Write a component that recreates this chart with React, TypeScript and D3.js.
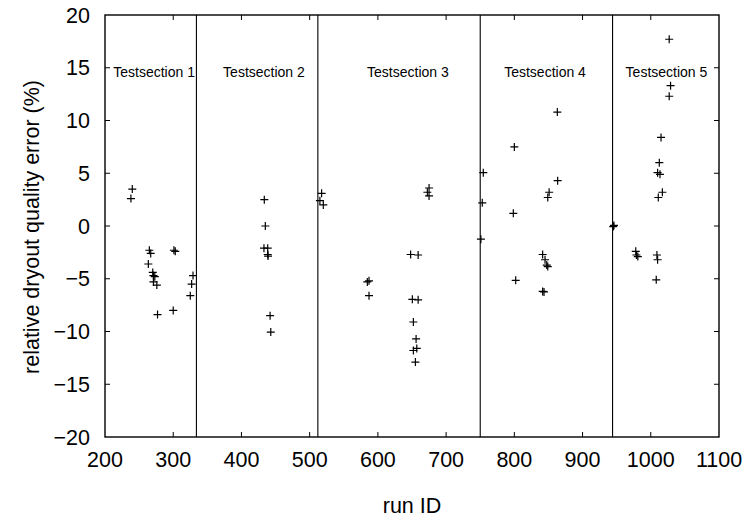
import React, { useEffect, useRef } from 'react';
import * as d3 from 'd3';

// run IDs and relative errors (%), per test section
const section1 = [
  [240, 3.5], [238, 2.6], [265, -2.3], [267, -2.6], [301, -2.3], [303, -2.4],
  [263.5, -3.6], [270, -4.4], [271, -4.7], [273, -4.8], [271, -5.3], [276, -5.6],
  [277, -8.4], [300, -8.0], [329, -4.7], [327, -5.5], [325, -6.6],
];
const section2 = [
  [433.5, 2.5], [435, 0], [433, -2.1], [438.5, -2.1], [438.5, -2.7], [439, -2.85],
  [442, -8.5], [443, -10.05],
];
const section3 = [
  [517.5, 3.1], [515, 2.4], [520, 2.0], [587, -5.2], [584.5, -5.3], [587, -6.6],
  [648, -2.7], [659, -2.75], [675, 3.6], [672.5, 3.2], [675, 2.85], [650.5, -6.95],
  [659, -7.0], [652, -9.1], [656, -10.7], [652, -11.8], [657, -11.6], [655, -12.9],
];
const section4 = [
  [754.5, 5.05], [753, 2.2], [751, -1.25], [800, 7.5], [798.5, 1.2], [802, -5.15],
  [863, 10.8], [863.5, 4.3], [851, 3.2], [849, 2.7], [841.5, -2.7], [845, -3.2],
  [847.5, -3.7], [849, -3.85], [841.5, -6.2], [843.5, -6.25],
];
const section5 = [
  [945, -0.05], [946, 0.05], [1027, 17.7], [1029, 13.3], [1027, 12.3], [1015, 8.4],
  [1012.5, 6.0], [1010, 5.05], [1013.5, 4.9], [1017, 3.2], [1011, 2.7], [978, -2.4],
  [981, -2.9], [979, -2.75], [1009, -2.75], [1010, -3.2], [1008, -5.1],
];

const boundaries = [334, 512, 750, 944];
const sectionNames = ['Testsection 1', 'Testsection 2', 'Testsection 3', 'Testsection 4', 'Testsection 5'];
const sectionLabelX = [272, 433, 644, 845, 1023];
const sectionLabelY = 14.1;

const xTicks = [200, 300, 400, 500, 600, 700, 800, 900, 1000, 1100];
const yTicks = [-20, -15, -10, -5, 0, 5, 10, 15, 20];

const FONT = '"Liberation Sans", Arial, Helvetica, sans-serif';
const FS = 21.5;

export default function App() {
  const ref = useRef<SVGSVGElement>(null);

  useEffect(() => {
    if (!ref.current) return;
    const svg = d3.select(ref.current);
    svg.selectAll('*').remove();

    const left = 105, right = 719, top = 15, bottom = 437;
    const x = d3.scaleLinear().domain([200, 1100]).range([left, right]);
    const y = d3.scaleLinear().domain([-20, 20]).range([bottom, top]);

    svg.append('rect').attr('width', 746).attr('height', 519).attr('fill', '#fff');

    const g = svg.append('g');
    const tl = 5;

    // inward ticks on all four sides
    xTicks.slice(1, -1).forEach(t => {
      g.append('line').attr('x1', x(t)).attr('x2', x(t)).attr('y1', bottom).attr('y2', bottom - tl)
        .attr('stroke', '#000').attr('stroke-width', 1);
      g.append('line').attr('x1', x(t)).attr('x2', x(t)).attr('y1', top).attr('y2', top + tl)
        .attr('stroke', '#000').attr('stroke-width', 1);
    });
    yTicks.slice(1, -1).forEach(t => {
      g.append('line').attr('x1', left).attr('x2', left + tl).attr('y1', y(t)).attr('y2', y(t))
        .attr('stroke', '#000').attr('stroke-width', 1);
      g.append('line').attr('x1', right).attr('x2', right - tl).attr('y1', y(t)).attr('y2', y(t))
        .attr('stroke', '#000').attr('stroke-width', 1);
    });

    // section boundaries
    boundaries.forEach(b => {
      g.append('line').attr('x1', x(b)).attr('x2', x(b)).attr('y1', top).attr('y2', bottom)
        .attr('stroke', '#000').attr('stroke-width', 1.1);
    });

    // frame
    g.append('rect').attr('x', left).attr('y', top).attr('width', right - left).attr('height', bottom - top)
      .attr('fill', 'none').attr('stroke', '#000').attr('stroke-width', 1.4);

    // tick labels
    g.selectAll('.xl').data(xTicks).enter().append('text')
      .attr('x', d => x(d)).attr('y', 467)
      .attr('text-anchor', 'middle').attr('font-family', FONT).attr('font-size', FS)
      .text(d => String(d));
    g.selectAll('.yl').data(yTicks).enter().append('text')
      .attr('x', left - 15).attr('y', d => y(d)).attr('dy', '0.36em')
      .attr('text-anchor', 'end').attr('font-family', FONT).attr('font-size', FS)
      .text(d => (d < 0 ? '\u2212' + Math.abs(d) : String(d)));

    // section labels
    sectionNames.forEach((n, i) => {
      g.append('text').attr('x', x(sectionLabelX[i])).attr('y', y(sectionLabelY))
        .attr('text-anchor', 'middle').attr('font-family', FONT).attr('font-size', 14).text(n);
    });

    // points as plus markers
    const all = [...section1, ...section2, ...section3, ...section4, ...section5];
    const s = 4;
    const marks = g.append('g').attr('stroke', '#000').attr('stroke-width', 1.2);
    all.forEach(([rx, ry]) => {
      const px = x(rx), py = y(ry);
      marks.append('path').attr('d', `M${px - s},${py}H${px + s}M${px},${py - s}V${py + s}`);
    });

    // axis titles
    svg.append('text').attr('x', (left + right) / 2).attr('y', 513).attr('text-anchor', 'middle')
      .attr('font-family', FONT).attr('font-size', FS).text('run ID');
    svg.append('text').attr('transform', `translate(39,227) rotate(-90)`)
      .attr('text-anchor', 'middle').attr('font-family', FONT).attr('font-size', FS)
      .text('relative dryout quality error (%)');
  }, []);

  return (
    <svg ref={ref} width={746} height={519}
      style={{ position: 'absolute', left: 0, top: 0, display: 'block' }} />
  );
}
